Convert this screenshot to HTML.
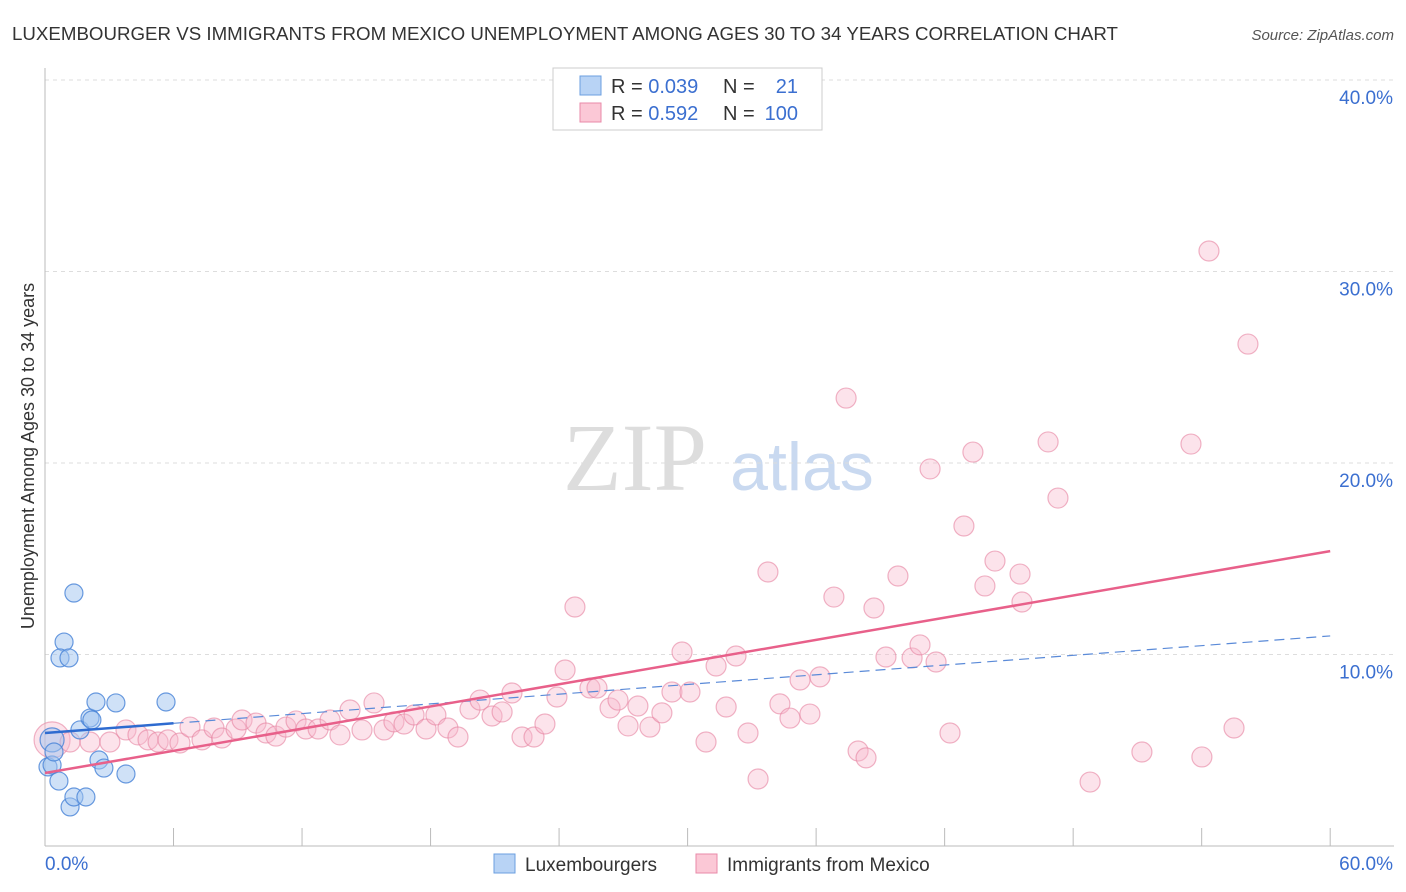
<!DOCTYPE html>
<html><head><meta charset="utf-8">
<style>
body{margin:0;background:#fff;font-family:"Liberation Sans",sans-serif;}
#wrap{position:relative;width:1406px;height:892px;overflow:hidden;}
</style></head>
<body>
<div id="wrap">
<svg id="svg" width="1406" height="892" xmlns="http://www.w3.org/2000/svg">
<text x="12" y="40" font-size="18" fill="#333" textLength="1106" lengthAdjust="spacingAndGlyphs">LUXEMBOURGER VS IMMIGRANTS FROM MEXICO UNEMPLOYMENT AMONG AGES 30 TO 34 YEARS CORRELATION CHART</text>
<text x="1394" y="40" font-size="15" fill="#555" font-style="italic" text-anchor="end">Source: ZipAtlas.com</text>
<text x="635" y="490" font-size="96" fill="#ddd" text-anchor="middle" font-family="Liberation Serif,serif">ZIP</text>
<text x="802" y="490" font-size="68" fill="#c9d9f0" text-anchor="middle">atlas</text>
<text transform="translate(34,456) rotate(-90)" font-size="18" fill="#333" text-anchor="middle">Unemployment Among Ages 30 to 34 years</text>
<g id="grid"></g><g id="axes"></g><g id="pts"></g><g id="lines"></g>
<g>
<rect x="553" y="68" width="269" height="62" fill="#fff" stroke="#ccc"/>
<rect x="580" y="76" width="21" height="19" fill="#b8d3f5" stroke="#6b9fe0"/>
<rect x="580" y="103" width="21" height="19" fill="#fbc8d6" stroke="#e88aa8"/>
<text x="611" y="93" font-size="20" fill="#333">R = <tspan fill="#3b6fd0">0.039</tspan><tspan x="723">N =</tspan><tspan x="798" text-anchor="end" fill="#3b6fd0">21</tspan></text>
<text x="611" y="120" font-size="20" fill="#333">R = <tspan fill="#3b6fd0">0.592</tspan><tspan x="723">N =</tspan><tspan x="798" text-anchor="end" fill="#3b6fd0">100</tspan></text>
</g>
<g>
<rect x="494" y="854" width="21" height="19" fill="#b8d3f5" stroke="#6b9fe0"/>
<text x="525" y="871" font-size="19" fill="#333">Luxembourgers</text>
<rect x="696" y="854" width="21" height="19" fill="#fbc8d6" stroke="#e88aa8"/>
<text x="727" y="871" font-size="19" fill="#333">Immigrants from Mexico</text>
</g>
</svg>
</div>
<script>
const blueX=[0.33,0.14,0.33,0.42,0.65,1.17,1.35,0.89,0.7,1.12,1.35,1.91,1.63,2.1,2.19,2.38,2.52,2.75,3.31,3.78,5.65];
const blueY=[5.54,4.13,4.23,4.91,3.39,2.04,13.21,10.65,9.82,9.82,2.56,2.56,6.06,6.68,6.58,7.52,4.49,4.07,7.47,3.76,7.52];
const pinkX=[0.33,1.17,2.1,3.03,3.78,4.34,4.81,5.28,5.74,6.3,6.77,7.33,7.89,8.26,8.92,9.2,9.85,10.32,10.78,11.25,11.72,12.18,12.75,13.31,13.77,14.24,14.8,15.36,15.83,16.29,16.76,17.23,17.79,18.25,18.81,19.28,19.84,20.31,20.87,21.34,21.8,22.27,22.83,23.34,23.9,24.28,24.74,25.44,25.77,26.38,26.75,27.22,27.68,28.24,28.8,29.27,29.74,30.11,30.86,31.33,31.8,32.26,32.82,33.29,33.75,34.31,34.78,35.25,35.71,36.18,36.83,37.4,37.96,38.33,38.7,39.26,39.82,40.48,40.85,41.32,41.6,42.25,42.9,43.32,43.88,44.35,45.52,45.61,46.83,47.29,48.79,51.21,53.5,54.01,54.34,55.51,56.16];
const pinkY=[5.54,5.43,5.43,5.43,6.06,5.8,5.54,5.43,5.54,5.38,6.21,5.54,6.16,5.64,6.11,6.58,6.42,5.9,5.74,6.21,6.53,6.11,6.11,6.58,5.8,7.1,6.06,7.47,6.06,6.48,6.37,6.84,6.11,6.84,6.16,5.69,7.15,7.62,6.79,7.0,7.99,5.69,5.69,6.37,7.78,9.19,12.48,8.25,8.25,7.21,7.62,6.27,7.31,6.21,6.95,8.04,10.13,8.04,5.43,9.4,7.26,9.92,5.9,3.5,14.31,7.42,6.68,8.67,6.89,8.83,13.0,23.39,4.96,4.6,12.43,9.87,14.1,9.82,10.5,19.69,9.61,5.9,16.71,20.57,13.58,14.88,14.2,12.74,21.1,18.17,3.34,4.91,20.99,4.65,31.07,6.16,26.21];
const pinkTrend=[3.81,15.4];
const blueTrend=[5.9,10.97];
const blueSolidEnd=6;
const yTicks=[10,20,30,40];
const yTickLabels=["10.0%","20.0%","30.0%","40.0%"];
const xTicks=[0,6,12,18,24,30,36,42,48,54,60];

const NS="http://www.w3.org/2000/svg";
const X=v=>45+v*21.42, Y=v=>846-v*19.15;
function mk(tag,attrs,parent){const e=document.createElementNS(NS,tag);for(const k in attrs)e.setAttribute(k,attrs[k]);document.getElementById(parent).appendChild(e);return e;}
yTicks.forEach((t,i)=>{
 const g=mk('line',{x1:45,x2:1394,y1:Y(t),y2:Y(t),stroke:'#ddd','stroke-dasharray':'4,4'},'grid');
 
 
 const tx=mk('text',{x:1393,y:Y(t)+24,'font-size':19,fill:'#3b6fd0','text-anchor':'end'},'axes');
 tx.textContent=yTickLabels[i];
 
 
});
const ax=mk('line',{x1:45,x2:45,y1:68,y2:846,stroke:'#bbb'},'axes');


const bx=mk('line',{x1:45,x2:1394,y1:846,y2:846,stroke:'#bbb'},'axes');


xTicks.forEach(t=>{
 const l=mk('line',{x1:X(t),x2:X(t),y1:828,y2:846,stroke:'#bbb'},'axes');
 
 
});
const xl0=mk('text',{x:45,y:870,'font-size':19,fill:'#3b6fd0'},'axes');xl0.textContent='0.0%';


const xl1=mk('text',{x:1393,y:870,'font-size':19,fill:'#3b6fd0','text-anchor':'end'},'axes');xl1.textContent='60.0%';


pinkX.forEach((v,i)=>{
 const c=mk('circle',{cx:X(v),cy:Y(pinkY[i]),r:i==0?18:10,fill:'rgba(248,185,205,0.4)',stroke:'rgba(230,130,160,0.6)','stroke-width':1.2},'pts');
 
 
});
blueX.forEach((v,i)=>{
 const c=mk('circle',{cx:X(v),cy:Y(blueY[i]),r:i==0?12:9,fill:'rgba(160,195,240,0.5)',stroke:'rgba(70,130,215,0.8)','stroke-width':1.2},'pts');
 
 
});
const bt=v=>blueTrend[0]+(blueTrend[1]-blueTrend[0])*v/60;
const l1=mk('line',{x1:X(blueSolidEnd),y1:Y(bt(blueSolidEnd)),x2:X(60),y2:Y(bt(60)),stroke:'#5a8ad8','stroke-width':1.2,'stroke-dasharray':'10,6'},'lines');


const l2=mk('line',{x1:X(0),y1:Y(bt(0)),x2:X(blueSolidEnd),y2:Y(bt(blueSolidEnd)),stroke:'#2e6bd0','stroke-width':2.5},'lines');


const l3=mk('line',{x1:X(0),y1:Y(pinkTrend[0]),x2:X(60),y2:Y(pinkTrend[1]),stroke:'#e8608a','stroke-width':2.5},'lines');


</script>
</body></html>
